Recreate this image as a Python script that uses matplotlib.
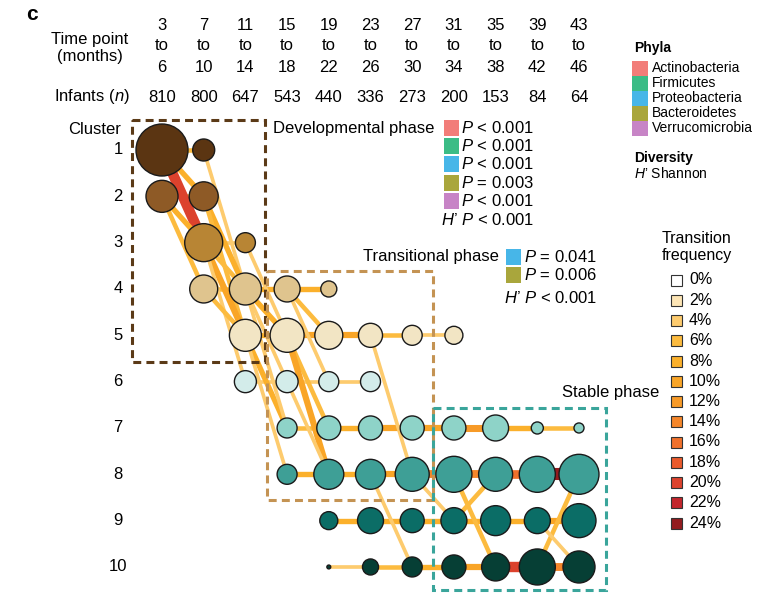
import numpy as np
import matplotlib.pyplot as plt
from matplotlib.patches import Rectangle
from matplotlib.transforms import blended_transform_factory as blend

plt.rcParams['font.family'] = ['Liberation Sans', 'DejaVu Sans']
plt.rcParams['mathtext.fontset'] = 'custom'
plt.rcParams['mathtext.rm'] = 'Liberation Sans'
plt.rcParams['mathtext.it'] = 'Liberation Sans:italic'

# time windows (months) and number of infants per window
t_start = [3, 7, 11, 15, 19, 23, 27, 31, 35, 39, 43]
t_end = [6, 10, 14, 18, 22, 26, 30, 34, 38, 42, 46]
infants = [810, 800, 647, 543, 440, 336, 273, 200, 153, 84, 64]

# nodes: cluster, time window index, share of infants (%)
node_cluster = [1, 1, 2, 2, 3, 3, 4, 4, 4, 4,
                5, 5, 5, 5, 5, 5, 6, 6, 6, 6,
                7, 7, 7, 7, 7, 7, 7, 7,
                8, 8, 8, 8, 8, 8, 8, 8,
                9, 9, 9, 9, 9, 9, 9,
                10, 10, 10, 10, 10, 10, 10]
node_window = [0, 1, 0, 1, 1, 2, 1, 2, 3, 4,
               2, 3, 4, 5, 6, 7, 2, 3, 4, 5,
               3, 4, 5, 6, 7, 8, 9, 10,
               3, 4, 5, 6, 7, 8, 9, 10,
               4, 5, 6, 7, 8, 9, 10,
               4, 5, 6, 7, 8, 9, 10]
node_share = [72.5, 13.0, 27.5, 22.6, 38.7, 10.7, 21.0, 27.5, 18.1, 6.9,
              27.5, 31.0, 21.0, 15.5, 10.7, 8.7, 13.0, 13.0, 10.7, 10.7,
              10.7, 15.5, 15.5, 15.5, 15.5, 18.1, 3.9, 2.7,
              10.7, 24.1, 24.1, 31.0, 34.8, 31.0, 34.8, 42.9,
              8.7, 18.1, 15.5, 18.1, 24.1, 18.1, 31.0,
              0.4, 6.9, 10.7, 15.5, 21.0, 34.8, 27.5]

# transitions: window index, cluster from, cluster to, frequency (%)
edge_window = [0, 0, 1, 1, 2, 3, 2, 3, 4, 5, 6, 2, 3, 4,
               3, 4, 5, 6, 7, 8, 9, 3, 4, 5, 6, 7, 8, 9,
               4, 5, 6, 7, 8, 9, 4, 5, 6, 7, 8, 9,
               0, 0, 0, 0, 1, 1, 1, 1, 1, 1, 1,
               2, 2, 2, 2, 2, 2, 3, 3, 3, 3, 3,
               5, 5, 6, 7, 7, 9, 9]
edge_from = [1, 2, 3, 4, 4, 4, 5, 5, 5, 5, 5, 6, 6, 6,
             7, 7, 7, 7, 7, 7, 7, 8, 8, 8, 8, 8, 8, 8,
             9, 9, 9, 9, 9, 9, 10, 10, 10, 10, 10, 10,
             1, 1, 2, 2, 1, 2, 2, 3, 3, 3, 4,
             3, 4, 4, 5, 5, 4, 4, 5, 5, 6, 4,
             5, 8, 8, 8, 9, 10, 9]
edge_to = [1, 2, 3, 4, 4, 4, 5, 5, 5, 5, 5, 6, 6, 6,
           7, 7, 7, 7, 7, 7, 7, 8, 8, 8, 8, 8, 8, 8,
           9, 9, 9, 9, 9, 9, 10, 10, 10, 10, 10, 10,
           2, 3, 3, 4, 4, 4, 5, 4, 5, 6, 5,
           5, 5, 6, 7, 8, 7, 5, 7, 8, 8, 6,
           8, 10, 9, 10, 8, 8, 10]
edge_freq = [6, 6, 4, 6, 8, 8, 8, 10, 10, 6, 4, 4, 4, 4,
             6, 8, 10, 10, 12, 8, 6, 8, 8, 10, 14, 14, 16, 24,
             8, 8, 8, 8, 8, 10, 4, 6, 8, 10, 20, 14,
             8, 20, 8, 6, 4, 8, 6, 6, 10, 4, 6,
             4, 8, 4, 8, 4, 4, 6, 6, 10, 4, 4,
             4, 4, 4, 6, 6, 6, 4]

freq_levels = [0, 2, 4, 6, 8, 10, 12, 14, 16, 18, 20, 22, 24]
freq_colors = ['#ffffff', '#fde5b5', '#fdcb6e', '#fcbb3f', '#fbb02b', '#f9a527',
               '#f79a27', '#f4862a', '#f0702b', '#ea5a2c', '#dc422d', '#c3262c',
               '#931c1f']

cluster_colors = {1: '#5b3512', 2: '#8e5a26', 3: '#b88534', 4: '#dfc48e',
                  5: '#f2e5c4', 6: '#d3ecea', 7: '#8ed3c8', 8: '#3e9f96',
                  9: '#0b6d66', 10: '#063f35'}

phyla = ['Actinobacteria', 'Firmicutes', 'Proteobacteria', 'Bacteroidetes',
         'Verrucomicrobia']
phyla_colors = ['#f27d79', '#3bbc86', '#47b6e8', '#a9a63c', '#c784c6']
dev_p = ['$\\mathit{P}$ < 0.001', '$\\mathit{P}$ < 0.001', '$\\mathit{P}$ < 0.001',
         '$\\mathit{P}$ = 0.003', '$\\mathit{P}$ < 0.001']
trans_phyla = [2, 3]
trans_p = ['$\\mathit{P}$ = 0.041', '$\\mathit{P}$ = 0.006']

W, H = 776, 595
fig = plt.figure(figsize=(W / 100, H / 100), dpi=100)

# network axes: x = time window index, y = cluster
ax = fig.add_axes([0, 0, 1, 1])
dx, dy = 41.7, 46.33
ax.set_xlim(-162 / dx, (W - 162) / dx)
ax.set_ylim(1 + (H - 150) / dy, 1 - 150 / dy)
ax.axis('off')

# overlay axes in pixel units for labels and legends
lax = fig.add_axes([0, 0, 1, 1], zorder=5)
lax.set_xlim(0, W)
lax.set_ylim(H, 0)
lax.axis('off')
lax.patch.set_alpha(0)

px2pt = 72 / 100

# transitions
for w, a, b, f in zip(edge_window, edge_from, edge_to, edge_freq):
    c = freq_colors[min(f // 2, len(freq_colors) - 1)]
    lw = (2.0 + 0.42 * f) * px2pt
    ax.plot([w, w + 1], [a, b], color=c, lw=lw, solid_capstyle='butt', zorder=1)

# clusters
r_px = np.sqrt(np.array(node_share) * 9.32)
ax.scatter(node_window, node_cluster, s=(2 * r_px * px2pt) ** 2,
           c=[cluster_colors[k] for k in node_cluster],
           edgecolors='#1a1a1a', linewidths=1.0, zorder=3)

# phase boxes
boxes = [(-0.72, 0.35, 2.47, 5.58, '#5b3a17'),
         (2.52, 3.61, 6.5, 8.55, '#c49353'),
         (6.5, 6.57, 10.65, 10.5, '#3aa59b')]
for x0, y0, x1, y1, col in boxes:
    ax.add_patch(Rectangle((x0, y0), x1 - x0, y1 - y0, fill=False, ec=col,
                           lw=2.2, ls=(0, (2.6, 1.7)), zorder=2))

# header rows
hdr = blend(ax.transData, lax.transData)
fs = 12
for i in range(len(t_start)):
    lax.text(i, 25, str(t_start[i]), transform=hdr, ha='center', va='center', fontsize=fs)
    lax.text(i, 46, 'to', transform=hdr, ha='center', va='center', fontsize=fs)
    lax.text(i, 67, str(t_end[i]), transform=hdr, ha='center', va='center', fontsize=fs)
    lax.text(i, 97, str(infants[i]), transform=hdr, ha='center', va='center', fontsize=fs)
lax.text(90, 48, 'Time point\n(months)', ha='center', va='center', fontsize=fs,
         linespacing=1.15)
lax.text(130, 97, 'Infants ($\\mathit{n}$)', ha='right', va='center', fontsize=fs)
lax.text(32, 14, 'c', ha='center', va='center', fontsize=15, fontweight='bold')

# cluster labels
clab = blend(lax.transData, ax.transData)
lax.text(95, 0.55, 'Cluster', transform=clab, ha='center', va='center', fontsize=fs)
for k in range(1, 11):
    lax.text(118, k, str(k), transform=clab, ha='center', va='center', fontsize=fs)

# developmental phase stats
lax.text(273, 128, 'Developmental phase', ha='left', va='center', fontsize=fs)
for i, (col, p) in enumerate(zip(phyla_colors, dev_p)):
    y = 128 + 18.2 * i
    lax.add_patch(Rectangle((444, y - 8), 15, 16, fc=col, ec='none'))
    lax.text(461, y, p, ha='left', va='center', fontsize=fs)
lax.text(534, 220, "$\\mathit{H}$\u2019 $\\mathit{P}$ < 0.001", ha='right',
         va='center', fontsize=fs)

# transitional phase stats
lax.text(499, 257, 'Transitional phase', ha='right', va='center', fontsize=fs)
for i, (k, p) in enumerate(zip(trans_phyla, trans_p)):
    y = 257 + 18.2 * i
    lax.add_patch(Rectangle((506, y - 8), 15, 16, fc=phyla_colors[k], ec='none'))
    lax.text(524, y, p, ha='left', va='center', fontsize=fs)
lax.text(597, 298, "$\\mathit{H}$\u2019 $\\mathit{P}$ < 0.001", ha='right',
         va='center', fontsize=fs)

lax.text(562, 393, 'Stable phase', ha='left', va='center', fontsize=fs)

# phyla legend
lax.text(634, 48, 'Phyla', ha='left', va='center', fontsize=10, fontweight='bold')
for i, (name, col) in enumerate(zip(phyla, phyla_colors)):
    y = 68 + 15 * i
    lax.add_patch(Rectangle((632, y - 7.5), 16, 15, fc=col, ec='none'))
    lax.text(652, y, name, ha='left', va='center', fontsize=10)
lax.text(634, 158, 'Diversity', ha='left', va='center', fontsize=10, fontweight='bold')
lax.text(634, 174, "$\\mathit{H}$\u2019 Shannon", ha='left', va='center', fontsize=10)

# transition frequency legend
lax.text(697, 247, 'Transition\nfrequency', ha='center', va='center', fontsize=11.5,
         linespacing=1.2)
for i, (lvl, col) in enumerate(zip(freq_levels, freq_colors)):
    y = 280 + 20.25 * i
    lax.add_patch(Rectangle((671, y - 5.5), 11, 11, fc=col, ec='#333333', lw=0.8))
    lax.text(689, y, f'{lvl}%', ha='left', va='center', fontsize=11.5)

fig.savefig('out.png', dpi=100)
